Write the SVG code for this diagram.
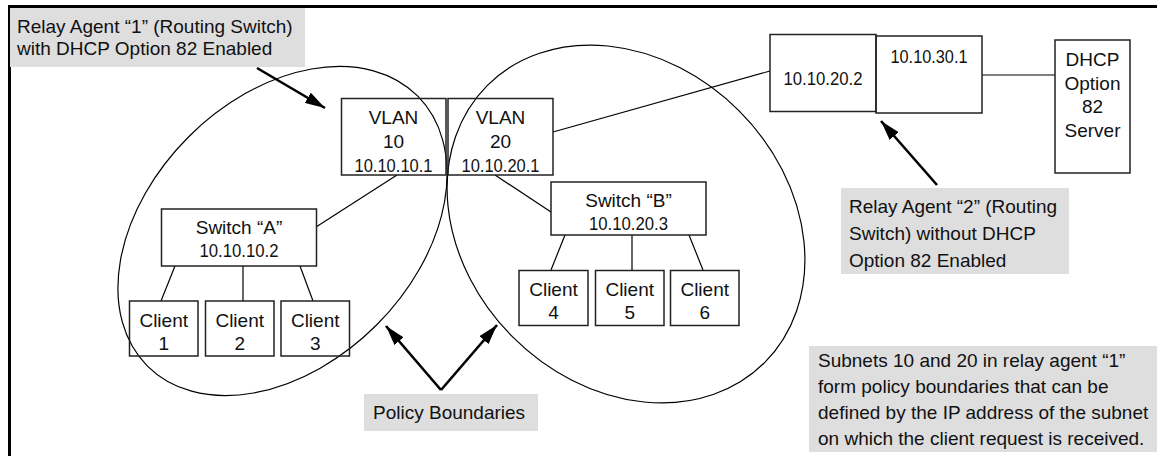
<svg xmlns="http://www.w3.org/2000/svg" width="1157" height="456" viewBox="0 0 1157 456">
<defs>
<style>
.t{font-family:"Liberation Sans",Arial,sans-serif;font-size:19px;fill:#111}
.m{text-anchor:middle}
.box{fill:none;stroke:#222;stroke-width:1.5}
.lbl{fill:#dedede}
.ln{stroke:#000;stroke-width:1.2;fill:none}
.arr{stroke:#000;stroke-width:2.6;fill:none;marker-end:url(#ah)}
.ell{fill:none;stroke:#000;stroke-width:1.2}
</style>
<marker id="ah" markerUnits="userSpaceOnUse" markerWidth="20" markerHeight="12" refX="20" refY="6" orient="auto"><path d="M0,0 L20,6 L0,12 z" fill="#000"/></marker>
</defs>
<rect width="1157" height="456" fill="#fff"/>
<path d="M9.5,456 V6.5 H1157" stroke="#000" stroke-width="3" fill="none"/>

<g id="labels">
<g id="label-relay1">
<rect x="10" y="8" width="295" height="59" class="lbl"/>
<text class="t" x="17" y="33">Relay Agent “1” (Routing Switch)</text>
<text class="t" x="17" y="55">with DHCP Option 82 Enabled</text>
</g>
<g id="label-relay2">
<rect x="841" y="188" width="228" height="86" class="lbl"/>
<text class="t" x="849" y="213">Relay Agent “2” (Routing</text>
<text class="t" x="849" y="240">Switch) without DHCP</text>
<text class="t" x="849" y="267">Option 82 Enabled</text>
</g>
<g id="label-policy">
<rect x="364" y="394" width="174" height="37" class="lbl"/>
<text class="t" x="373" y="419">Policy Boundaries</text>
</g>
<g id="label-subnets">
<rect x="809" y="346" width="348" height="106" class="lbl"/>
<text class="t" x="818" y="367">Subnets 10 and 20 in relay agent “1”</text>
<text class="t" x="818" y="393">form policy boundaries that can be</text>
<text class="t" x="818" y="419">defined by the IP address of the subnet</text>
<text class="t" x="818" y="445">on which the client request is received.</text>
</g>
</g>

<g id="connectors">
<ellipse class="ell" cx="282.5" cy="231" rx="191" ry="133" transform="rotate(-45 282.5 231)"/>
<ellipse class="ell" cx="626" cy="224" rx="196" ry="160" transform="rotate(45 626 224)"/>
<line class="ln" x1="397" y1="175" x2="316" y2="227"/>
<line class="ln" x1="495" y1="175" x2="551" y2="212"/>
<line class="ln" x1="553" y1="132" x2="770" y2="71"/>
<line class="ln" x1="982" y1="75" x2="1055" y2="75"/>
<line class="ln" x1="175" y1="266" x2="161" y2="301"/>
<line class="ln" x1="243" y1="266" x2="243" y2="301"/>
<line class="ln" x1="300" y1="266" x2="313" y2="301"/>
<line class="ln" x1="565" y1="235" x2="551" y2="270"/>
<line class="ln" x1="632" y1="235" x2="632" y2="270"/>
<line class="ln" x1="689" y1="235" x2="703" y2="270"/>
<line class="arr" x1="257" y1="68" x2="325" y2="108"/>
<line class="arr" x1="937" y1="185" x2="881" y2="121"/>
<path class="arr" d="M441,390 L386,326"/>
<path class="arr" d="M441,390 L497,325"/>
</g>

<g id="vlan10">
<rect class="box" x="341.5" y="98.5" width="104.5" height="76.5"/>
<text class="t m" x="393.5" y="124">VLAN</text>
<text class="t m" x="393.5" y="148">10</text>
<text class="t m" x="393.5" y="172" textLength="78" lengthAdjust="spacingAndGlyphs">10.10.10.1</text>
</g>
<g id="vlan20">
<rect class="box" x="448" y="98.5" width="105" height="76.5"/>
<text class="t m" x="500.5" y="124">VLAN</text>
<text class="t m" x="500.5" y="148">20</text>
<text class="t m" x="500.5" y="172" textLength="78" lengthAdjust="spacingAndGlyphs">10.10.20.1</text>
</g>
<g id="relay2-port20">
<rect class="box" x="770" y="34.5" width="106" height="77"/>
<text class="t m" x="823" y="85" textLength="79" lengthAdjust="spacingAndGlyphs">10.10.20.2</text>
</g>
<g id="relay2-port30">
<rect class="box" x="876" y="36" width="106" height="77"/>
<text class="t m" x="929" y="63" textLength="77" lengthAdjust="spacingAndGlyphs">10.10.30.1</text>
</g>
<g id="dhcp-server">
<rect class="box" x="1055" y="40" width="75" height="133"/>
<text class="t m" x="1092.5" y="66">DHCP</text>
<text class="t m" x="1092.5" y="90">Option</text>
<text class="t m" x="1092.5" y="113">82</text>
<text class="t m" x="1092.5" y="137">Server</text>
</g>
<g id="switch-a">
<rect class="box" x="161.5" y="209" width="155" height="57"/>
<text class="t m" x="239" y="234">Switch “A”</text>
<text class="t m" x="239" y="257" textLength="79" lengthAdjust="spacingAndGlyphs">10.10.10.2</text>
</g>
<g id="switch-b">
<rect class="box" x="551" y="182" width="155" height="53"/>
<text class="t m" x="628.5" y="207">Switch “B”</text>
<text class="t m" x="628.5" y="230" textLength="79" lengthAdjust="spacingAndGlyphs">10.10.20.3</text>
</g>
<g id="client1">
<rect class="box" x="129.5" y="301" width="68.5" height="55"/>
<text class="t m" x="163.7" y="327">Client</text>
<text class="t m" x="163.7" y="350">1</text>
</g>
<g id="client2">
<rect class="box" x="205.5" y="301" width="68.5" height="55"/>
<text class="t m" x="239.7" y="327">Client</text>
<text class="t m" x="239.7" y="350">2</text>
</g>
<g id="client3">
<rect class="box" x="281" y="301" width="68.5" height="55"/>
<text class="t m" x="315.2" y="327">Client</text>
<text class="t m" x="315.2" y="350">3</text>
</g>
<g id="client4">
<rect class="box" x="519" y="270.5" width="69" height="55"/>
<text class="t m" x="553.5" y="296">Client</text>
<text class="t m" x="553.5" y="319">4</text>
</g>
<g id="client5">
<rect class="box" x="595.5" y="270.5" width="68.5" height="55"/>
<text class="t m" x="629.7" y="296">Client</text>
<text class="t m" x="629.7" y="319">5</text>
</g>
<g id="client6">
<rect class="box" x="670.5" y="270.5" width="68.5" height="55"/>
<text class="t m" x="704.7" y="296">Client</text>
<text class="t m" x="704.7" y="319">6</text>
</g>
</svg>
